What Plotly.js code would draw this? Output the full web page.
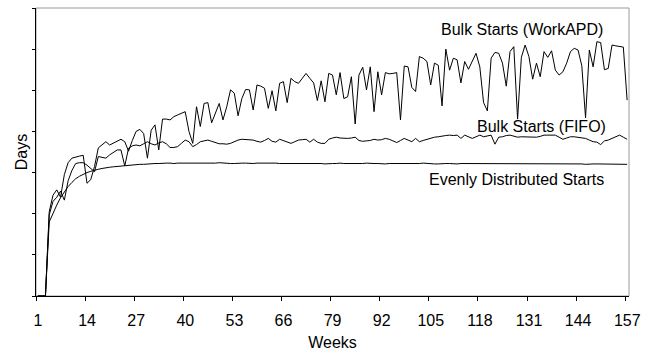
<!DOCTYPE html>
<html>
<head>
<meta charset="utf-8">
<script src="https://cdn.plot.ly/plotly-3.0.1.min.js"></script>
<style>html,body{margin:0;padding:0;background:#fff;}#chart{width:655px;height:354px;}</style>
</head>
<body>
<div id="chart"></div>
<script>
var weeks = [];
for (var i = 1; i <= 157; i++) weeks.push(i);

var tickLabels = ['1','14','27','40','53','66','79','92','105','118','131','144','157'];

var workAPD = [
0,0,0,20.5,24.5,25.8,24,29.5,32.4,33.5,
33.8,34,34.2,27.4,28.3,31.5,36,36.8,37.5,36.7,
37.2,37.5,38.1,37.5,35.2,37.8,40,40.5,39.5,33.5,
40.3,41.6,35.5,43,43,42.8,43.6,44,44.5,44.8,
40,37.1,46,41.2,46.8,47,42.1,44.5,46.8,42.8,
46,50.1,49.3,43.8,48,50.2,50.1,45.2,51.3,51,
50.5,45.6,49.9,45,51.7,52.1,47,52.9,52.1,51.7,
53,54.1,52.9,51.8,47.5,52.3,47.2,54.1,53.7,48.9,
54.3,48,48.4,53.3,41.8,53.7,55.6,50.1,55.7,44.8,
54.5,48.9,54.3,54,54.1,54.3,42.8,55.9,55.7,50.7,
49.7,58.2,57.8,57,51.3,56.6,56.1,46.2,60,54.9,
57.8,57.4,51.8,57,55.1,57,59,55.7,47,45,
57.8,59.2,59,56.6,51,59.4,60.6,43,58,61,
58.2,52.7,56.6,53.3,59.4,58,59.6,54.9,53.7,54.5,
56.6,59.4,60.2,59.8,56,43.3,59.8,55.7,61.8,61.6,
55,55.3,61,60.8,60.6,60.5,47.6
];

var fifo = [
0,0,0,19.7,23,24,25.5,23.3,28,30.5,
32.2,32.4,32.4,31.8,31,30.2,33.9,33.7,33.5,34.3,
35,35.5,35.5,31.6,35.9,36.5,36.7,36.5,37,37.5,
37,36.7,37.2,37.5,37,36.1,36.1,36.3,37.1,37.9,
37.5,36.3,36.8,37.5,37.7,37.9,37.6,37.3,37,37,
36.9,37.1,37.5,37.9,38.1,38,37.9,37.9,37.6,37.4,
37.8,38.3,37.6,37.4,38.1,37.8,37.4,37.1,37.5,37.9,
38,38.1,37.4,38.1,37.4,37.1,37.1,38.1,38.4,38.6,
38.4,38.3,38.3,38.4,38.6,37.8,37.6,37.7,37.8,38.1,
37.9,38,38.3,38.1,37.7,37.3,37.8,38.3,37.9,37.5,
38.3,37.5,37.8,38.1,38.4,38.6,38.7,38.9,39,39.1,
39,39.1,38.3,39.1,38.6,38.3,38.7,39.1,38.7,38.9,
39.1,36.9,38.6,38.7,39,39.1,38.8,38.6,38.7,38.7,
38.6,38.6,38.6,38.8,39.1,39.1,39.1,39.1,38.6,38.1,
38.4,38.7,38.7,38.6,38.5,38.3,37.9,37.5,37.4,36.8,
37.7,37.9,38.3,38.7,39.1,38.6,38.1
];

var evenly = [
0,0,0,18,20.2,22.1,23.9,25.4,26.6,27.6,
28.5,29.1,29.6,30,30.3,30.6,30.8,31,31.2,31.3,
31.4,31.5,31.6,31.7,31.8,31.8,31.9,32,32,32.1,
32.1,32.2,32.2,32.3,32.3,32.3,32.2,32.3,32.3,32.2,
32.2,32.3,32.3,32.2,32.2,32.2,32.3,32.3,32.4,32.3,
32.3,32.2,32.2,32.3,32.3,32.3,32.2,32.2,32.3,32.3,
32.3,32.4,32.3,32.3,32.2,32.2,32.2,32.3,32.3,32.2,
32.2,32.3,32.3,32.2,32.2,32.2,32.1,32.2,32.2,32.2,
32.3,32.2,32.2,32.2,32.1,32.2,32.2,32.3,32.2,32.2,
32.2,32.1,32.1,32.2,32.2,32.2,32.2,32.1,32.2,32.2,
32.2,32.2,32.3,32.2,32.2,32.1,32.1,32.2,32.2,32.2,
32.1,32.1,32.2,32.2,32.2,32.2,32.1,32.1,32.2,32.2,
32.2,32.1,32.1,32.1,32.2,32.2,32.2,32.1,32.1,32.1,
32.2,32.2,32.1,32.1,32.1,32.1,32.2,32.2,32.1,32.1,
32.1,32.1,32.1,32.1,32.1,32,32.1,32.1,32.1,32.1,
32.1,32,32,32.1,32.1,32,32
];

var seriesNames = ['Bulk Starts (WorkAPD)', 'Bulk Starts (FIFO)', 'Evenly Distributed Starts'];

var tickVals = tickLabels.map(function (t) { return Number(t) - 0.5; });

var FONT = 'Liberation Sans, Arial, Helvetica, sans-serif';
var lineStyle = {color: '#000000', width: 1};

var traces = [
  {x: weeks, y: workAPD, name: seriesNames[0], type: 'scatter', mode: 'lines', line: lineStyle, hoverinfo: 'x+y+name'},
  {x: weeks, y: fifo, name: seriesNames[1], type: 'scatter', mode: 'lines', line: lineStyle, hoverinfo: 'x+y+name'},
  {x: weeks, y: evenly, name: seriesNames[2], type: 'scatter', mode: 'lines', line: lineStyle, hoverinfo: 'x+y+name'}
];

var layout = {
  width: 655,
  height: 354,
  margin: {l: 36, r: 26, t: 8, b: 58},
  paper_bgcolor: '#ffffff',
  plot_bgcolor: '#ffffff',
  showlegend: false,
  font: {family: FONT, size: 16, color: '#000000'},
  xaxis: {
    range: [0.5, 157.5],
    tickmode: 'array',
    tickvals: tickVals,
    ticktext: tickLabels,
    ticklabelshift: 2,
    ticklabelstandoff: 6,
    ticks: 'outside',
    ticklen: 4,
    tickwidth: 1,
    tickcolor: '#000000',
    showgrid: false,
    zeroline: false,
    showline: true,
    linecolor: '#000000',
    linewidth: 1,
    tickfont: {family: FONT, size: 16, color: '#000000'},
    title: {text: 'Weeks', font: {family: FONT, size: 16, color: '#000000'}, standoff: 8},
    automargin: false
  },
  xaxis2: {
    overlaying: 'x',
    anchor: 'y',
    range: [0.5, 157.5],
    tickmode: 'array',
    tickvals: tickVals,
    ticks: 'inside',
    ticklen: 4,
    tickwidth: 1,
    tickcolor: '#000000',
    showticklabels: false,
    showgrid: false,
    zeroline: false,
    showline: false
  },
  yaxis: {
    range: [0, 70],
    tickmode: 'linear',
    tick0: 0,
    dtick: 10,
    ticks: 'outside',
    ticklen: 3,
    tickwidth: 1,
    tickcolor: '#000000',
    showticklabels: false,
    showgrid: false,
    zeroline: false,
    showline: true,
    linecolor: '#000000',
    linewidth: 1,
    title: {text: 'Days', font: {family: FONT, size: 16, color: '#000000'}, standoff: 0},
    automargin: false
  },
  shapes: [
    {type: 'rect', xref: 'paper', yref: 'paper', x0: 0, x1: 1, y0: 0, y1: 1,
     line: {color: '#9a9a9a', width: 1}, fillcolor: 'rgba(0,0,0,0)', layer: 'below'}
  ],
  annotations: [
    {text: seriesNames[0], xref: 'paper', yref: 'paper', x: 0.8204, y: 0.927, showarrow: false,
     xanchor: 'center', yanchor: 'middle', font: {family: FONT, size: 16, color: '#000000'}},
    {text: seriesNames[1], xref: 'paper', yref: 'paper', x: 0.852, y: 0.5885, showarrow: false,
     xanchor: 'center', yanchor: 'middle', font: {family: FONT, size: 16, color: '#000000'}},
    {text: seriesNames[2], xref: 'paper', yref: 'paper', x: 0.8106, y: 0.4028, showarrow: false,
     xanchor: 'center', yanchor: 'middle', font: {family: FONT, size: 16, color: '#000000'}}
  ]
};

Plotly.newPlot('chart', traces, layout, {displayModeBar: false, staticPlot: true});
</script>
</body>
</html>
